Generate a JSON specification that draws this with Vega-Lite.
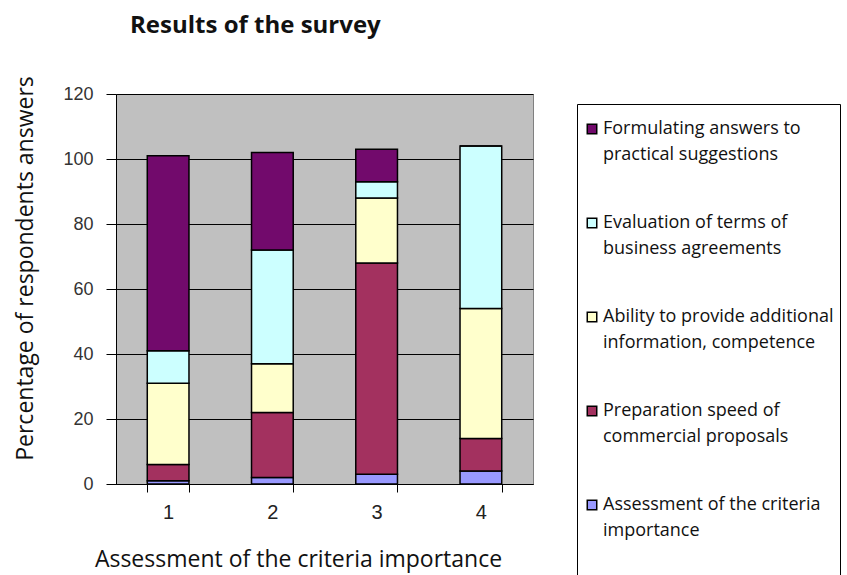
{
  "$schema": "https://vega.github.io/schema/vega-lite/v6.json",
  "width": 417,
  "height": 390,
  "autosize": "none",
  "padding": {"left": 116, "top": 94, "right": 314, "bottom": 91},
  "background": "white",
  "title": {
    "text": "Results of the survey",
    "anchor": "start",
    "frame": "group",
    "dx": 14,
    "offset": 38,
    "font": "Open Sans",
    "fontSize": 24,
    "fontWeight": "bold",
    "color": "#111111"
  },
  "data": {
    "values": [
      {"group": "1", "series": "Assessment of the criteria importance", "ord": 1, "value": 1},
      {"group": "1", "series": "Preparation speed of commercial proposals", "ord": 2, "value": 5},
      {"group": "1", "series": "Ability to provide additional information, competence", "ord": 3, "value": 25},
      {"group": "1", "series": "Evaluation of terms of business agreements", "ord": 4, "value": 10},
      {"group": "1", "series": "Formulating answers to practical suggestions", "ord": 5, "value": 60},
      {"group": "2", "series": "Assessment of the criteria importance", "ord": 1, "value": 2},
      {"group": "2", "series": "Preparation speed of commercial proposals", "ord": 2, "value": 20},
      {"group": "2", "series": "Ability to provide additional information, competence", "ord": 3, "value": 15},
      {"group": "2", "series": "Evaluation of terms of business agreements", "ord": 4, "value": 35},
      {"group": "2", "series": "Formulating answers to practical suggestions", "ord": 5, "value": 30},
      {"group": "3", "series": "Assessment of the criteria importance", "ord": 1, "value": 3},
      {"group": "3", "series": "Preparation speed of commercial proposals", "ord": 2, "value": 65},
      {"group": "3", "series": "Ability to provide additional information, competence", "ord": 3, "value": 20},
      {"group": "3", "series": "Evaluation of terms of business agreements", "ord": 4, "value": 5},
      {"group": "3", "series": "Formulating answers to practical suggestions", "ord": 5, "value": 10},
      {"group": "4", "series": "Assessment of the criteria importance", "ord": 1, "value": 4},
      {"group": "4", "series": "Preparation speed of commercial proposals", "ord": 2, "value": 10},
      {"group": "4", "series": "Ability to provide additional information, competence", "ord": 3, "value": 40},
      {"group": "4", "series": "Evaluation of terms of business agreements", "ord": 4, "value": 50},
      {"group": "4", "series": "Formulating answers to practical suggestions", "ord": 5, "value": 0}
    ]
  },
  "mark": {"type": "bar", "stroke": "black", "strokeWidth": 1.5},
  "encoding": {
    "x": {
      "field": "group",
      "type": "nominal",
      "scale": {"paddingInner": 0.6, "paddingOuter": 0.3},
      "axis": {
        "title": "Assessment of the criteria importance",
        "labelAngle": 0,
        "tickBand": "extent",
        "tickSize": 8,
        "tickColor": "black",
        "domainColor": "black",
        "labelFont": "Liberation Sans",
        "labelFontSize": 20,
        "labelColor": "#222222",
        "labelPadding": 10,
        "titleFont": "Open Sans",
        "titleFontSize": 23,
        "titleFontWeight": "normal",
        "titleColor": "#111111",
        "titleX": 182,
        "titleY": 82,
        "titleBaseline": "alphabetic",
        "titleAlign": "center"
      }
    },
    "y": {
      "field": "value",
      "type": "quantitative",
      "stack": "zero",
      "scale": {"domain": [0, 120]},
      "axis": {
        "title": "Percentage of respondents answers",
        "values": [0, 20, 40, 60, 80, 100, 120],
        "grid": true,
        "gridColor": "black",
        "gridWidth": 1,
        "tickSize": 10,
        "tickColor": "black",
        "domainColor": "black",
        "labelFont": "Liberation Sans",
        "labelFontSize": 18,
        "labelColor": "#333333",
        "labelPadding": 13,
        "titleFont": "Open Sans",
        "titleFontSize": 23,
        "titleFontWeight": "normal",
        "titleColor": "#111111",
        "titleX": -91,
        "titleY": 174,
        "titleBaseline": "middle",
        "titleAlign": "center",
        "titleAngle": -90
      }
    },
    "color": {
      "field": "series",
      "type": "nominal",
      "scale": {
        "domain": [
          "Formulating answers to practical suggestions",
          "Evaluation of terms of business agreements",
          "Ability to provide additional information, competence",
          "Preparation speed of commercial proposals",
          "Assessment of the criteria importance"
        ],
        "range": ["#720A6C", "#CCFFFF", "#FFFFCC", "#A3315F", "#9999FF"]
      },
      "legend": {
        "title": " ",
        "titleFontSize": 2,
        "titlePadding": 8,
        "orient": "none",
        "legendX": 461,
        "legendY": 10,
        "strokeColor": "black",
        "fillColor": "white",
        "padding": 6,
        "symbolType": "square",
        "symbolSize": 90,
        "symbolStrokeColor": "black",
        "symbolStrokeWidth": 1.5,
        "labelFont": "Open Sans",
        "labelFontSize": 18,
        "labelColor": "#111111",
        "labelLimit": 400,
        "labelOffset": 2,
        "rowPadding": 50,
        "encode": {"labels": {"update": {"lineHeight": {"value": 26}}}},
        "labelExpr": "datum.label == 'Formulating answers to practical suggestions' ? ['Formulating answers to', 'practical suggestions'] : datum.label == 'Evaluation of terms of business agreements' ? ['Evaluation of terms of', 'business agreements'] : datum.label == 'Ability to provide additional information, competence' ? ['Ability to provide additional', 'information, competence'] : datum.label == 'Preparation speed of commercial proposals' ? ['Preparation speed of', 'commercial proposals'] : ['Assessment of the criteria', 'importance', ' ', ' ']"
      }
    },
    "order": {"field": "ord", "type": "quantitative"}
  },
  "config": {
    "view": {"fill": "#C0C0C0", "stroke": "#808080"}
  }
}
